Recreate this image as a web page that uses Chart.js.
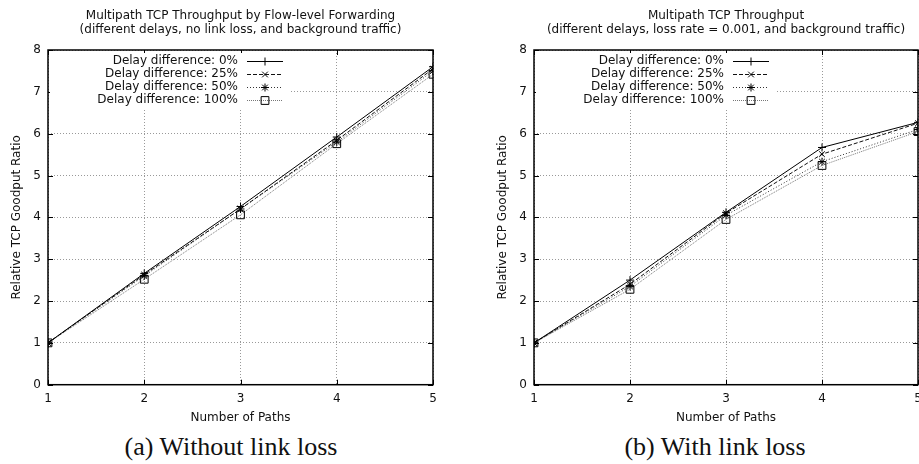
<!DOCTYPE html>
<html>
<head>
<meta charset="utf-8">
<script src="https://cdn.jsdelivr.net/npm/chart.js@4"></script>
<style>
  html, body { margin: 0; padding: 0; background: #fff; overflow: hidden; }
  #wrap { position: relative; width: 919px; height: 464px; overflow: hidden; }
  #left { position: absolute; left: 0; top: 0; width: 460px; height: 430px; }
  #right { position: absolute; left: 460px; top: 0; width: 480px; height: 430px; }
  .cap { position: absolute; top: 430px; font-family: "Liberation Serif", serif; font-size: 26px;
         line-height: 34px; color: #111; white-space: nowrap; transform: translateX(-50%); }
</style>
</head>
<body>
<div id="wrap">
  <canvas id="left" width="460" height="430"></canvas>
  <canvas id="right" width="480" height="430"></canvas>
  <div class="cap" style="left:231px">(a) Without link loss</div>
  <div class="cap" style="left:715px">(b) With link loss</div>
</div>
<script>
// данные
const paths = [1, 2, 3, 4, 5];
const seriesLabels = ["Delay difference: 0%", "Delay difference: 25%", "Delay difference: 50%", "Delay difference: 100%"];

// (a) без потерь
const noLoss0 = [1, 2.66, 4.26, 5.92, 7.6];
const noLoss25 = [1, 2.63, 4.2, 5.84, 7.55];
const noLoss50 = [1, 2.6, 4.2, 5.8, 7.5];
const noLoss100 = [1, 2.52, 4.06, 5.76, 7.42];

// (b) с потерями
const loss0 = [1, 2.5, 4.12, 5.67, 6.27];
const loss25 = [1, 2.4, 4.1, 5.51, 6.25];
const loss50 = [1, 2.35, 4.05, 5.33, 6.1];
const loss100 = [1, 2.28, 3.95, 5.24, 6.05];

const yTicks = [0, 1, 2, 3, 4, 5, 6, 7, 8];

// стиль линий как в gnuplot
const styles = [
    { color: "#000", dash: [], point: "cross", r: 4 },
    { color: "#111", dash: [4, 2], point: "crossRot", r: 4 },
    { color: "#333", dash: [1, 2], point: "star", r: 4 },
    { color: "#777", dash: [1, 1], point: "rect", r: 5.5 },
];

function makeDatasets(list) {
    return list.map(function (vals, i) {
        const s = styles[i];
        return {
            label: seriesLabels[i],
            data: paths.map(function (p, j) { return { x: p, y: vals[j] }; }),
            borderColor: s.color,
            borderWidth: 1,
            borderDash: s.dash,
            pointStyle: s.point,
            pointRadius: s.r,
            pointHoverRadius: s.r,
            pointBorderColor: "#000",
            pointBackgroundColor: "rgba(0,0,0,0)",
            pointBorderWidth: 1,
            fill: false,
            tension: 0,
        };
    });
}

function drawMarker(ctx, type, x, y, r) {
    ctx.beginPath();
    if (type === "cross") {
        ctx.moveTo(x - r, y); ctx.lineTo(x + r, y);
        ctx.moveTo(x, y - r); ctx.lineTo(x, y + r);
    } else if (type === "crossRot") {
        const d = r * Math.SQRT1_2;
        ctx.moveTo(x - d, y - d); ctx.lineTo(x + d, y + d);
        ctx.moveTo(x - d, y + d); ctx.lineTo(x + d, y - d);
    } else if (type === "star") {
        const d = r * Math.SQRT1_2;
        ctx.moveTo(x - r, y); ctx.lineTo(x + r, y);
        ctx.moveTo(x, y - r); ctx.lineTo(x, y + r);
        ctx.moveTo(x - d, y - d); ctx.lineTo(x + d, y + d);
        ctx.moveTo(x - d, y + d); ctx.lineTo(x + d, y - d);
    } else {
        const h = r * Math.SQRT1_2;
        ctx.rect(x - h, y - h, 2 * h, 2 * h);
    }
    ctx.stroke();
}

// рамка, засечки, заголовок и легенда
const gnuplotLook = {
    id: "gnuplotLook",
    afterDatasetsDraw: function (chart, args, opts) {
        const ctx = chart.ctx;
        const a = chart.chartArea;
        const xs = chart.scales.x, ys = chart.scales.y;
        ctx.save();
        ctx.setLineDash([]);
        ctx.strokeStyle = "#000";
        ctx.lineWidth = 1;
        // засечки внутрь
        ctx.beginPath();
        paths.forEach(function (p) {
            const px = Math.round(xs.getPixelForValue(p)) + 0.5;
            ctx.moveTo(px, a.bottom); ctx.lineTo(px, a.bottom - 5);
            ctx.moveTo(px, a.top); ctx.lineTo(px, a.top + 5);
        });
        yTicks.forEach(function (v) {
            const py = Math.round(ys.getPixelForValue(v)) + 0.5;
            ctx.moveTo(a.left, py); ctx.lineTo(a.left + 5, py);
            ctx.moveTo(a.right, py); ctx.lineTo(a.right - 5, py);
        });
        ctx.stroke();
        ctx.lineWidth = 1.5;
        ctx.strokeRect(a.left, a.top, a.right - a.left, a.bottom - a.top);

        // заголовок
        const cx = (a.left + a.right) / 2;
        ctx.fillStyle = "#111";
        ctx.font = "12px 'DejaVu Sans'";
        ctx.textAlign = "center";
        ctx.textBaseline = "middle";
        ctx.fillText(opts.title[0], cx, 16);
        ctx.fillText(opts.title[1], cx, 29.5);

        // легенда
        const lx = a.left + 190;
        ctx.fillStyle = "#fff";
        ctx.fillRect(a.left + 2, a.top + 3, 240, 55);
        ctx.lineWidth = 1;
        chart.data.datasets.forEach(function (ds, i) {
            const y = a.top + 11 + i * 13;
            ctx.fillStyle = "#111";
            ctx.textAlign = "right";
            ctx.fillText(ds.label, lx, y);
            ctx.strokeStyle = ds.borderColor;
            ctx.setLineDash(ds.borderDash);
            ctx.beginPath();
            ctx.moveTo(lx + 9, y + 0.5); ctx.lineTo(lx + 45, y + 0.5);
            ctx.stroke();
            ctx.setLineDash([]);
            ctx.strokeStyle = "#000";
            drawMarker(ctx, ds.pointStyle, lx + 27, y + 0.5, ds.pointRadius);
        });
        ctx.restore();
    },
};

function makeChart(id, lists, title, padLeft, padRight) {
    return new Chart(document.getElementById(id), {
        type: "line",
        data: { datasets: makeDatasets(lists) },
        plugins: [gnuplotLook],
        options: {
            responsive: false,
            animation: false,
            layout: { padding: { left: padLeft, right: padRight, top: 50, bottom: 0 } },
            plugins: {
                legend: { display: false },
                tooltip: { enabled: false },
                gnuplotLook: { title: title },
            },
            scales: {
                x: {
                    type: "linear",
                    min: 1,
                    max: 5,
                    afterFit: function (s) { s.height = 45.3; },
                    ticks: { stepSize: 1, padding: 7, color: "#111", font: { family: "DejaVu Sans", size: 12 } },
                    grid: { color: "#999", drawTicks: false, lineWidth: 1 },
                    border: { display: false, dash: [1, 2] },
                    title: {
                        display: true,
                        text: "Number of Paths",
                        color: "#111",
                        font: { family: "DejaVu Sans", size: 12 },
                        padding: { top: 0, bottom: 5 },
                    },
                },
                y: {
                    min: 0,
                    max: 8,
                    afterFit: function (s) { s.width = 48; },
                    ticks: { stepSize: 1, padding: 7, color: "#111", font: { family: "DejaVu Sans", size: 12 } },
                    grid: { color: "#999", drawTicks: false, lineWidth: 1 },
                    border: { display: false, dash: [1, 2] },
                    title: {
                        display: true,
                        text: "Relative TCP Goodput Ratio",
                        color: "#111",
                        font: { family: "DejaVu Sans", size: 12 },
                        padding: { top: 10, bottom: 0 },
                    },
                },
            },
        },
    });
}

makeChart("left", [noLoss0, noLoss25, noLoss50, noLoss100],
    ["Multipath TCP Throughput by Flow-level Forwarding", "(different delays, no link loss, and background traffic)"], 0, 27);
makeChart("right", [loss0, loss25, loss50, loss100],
    ["Multipath TCP Throughput", "(different delays, loss rate = 0.001, and background traffic)"], 26, 22);
</script>
</body>
</html>
